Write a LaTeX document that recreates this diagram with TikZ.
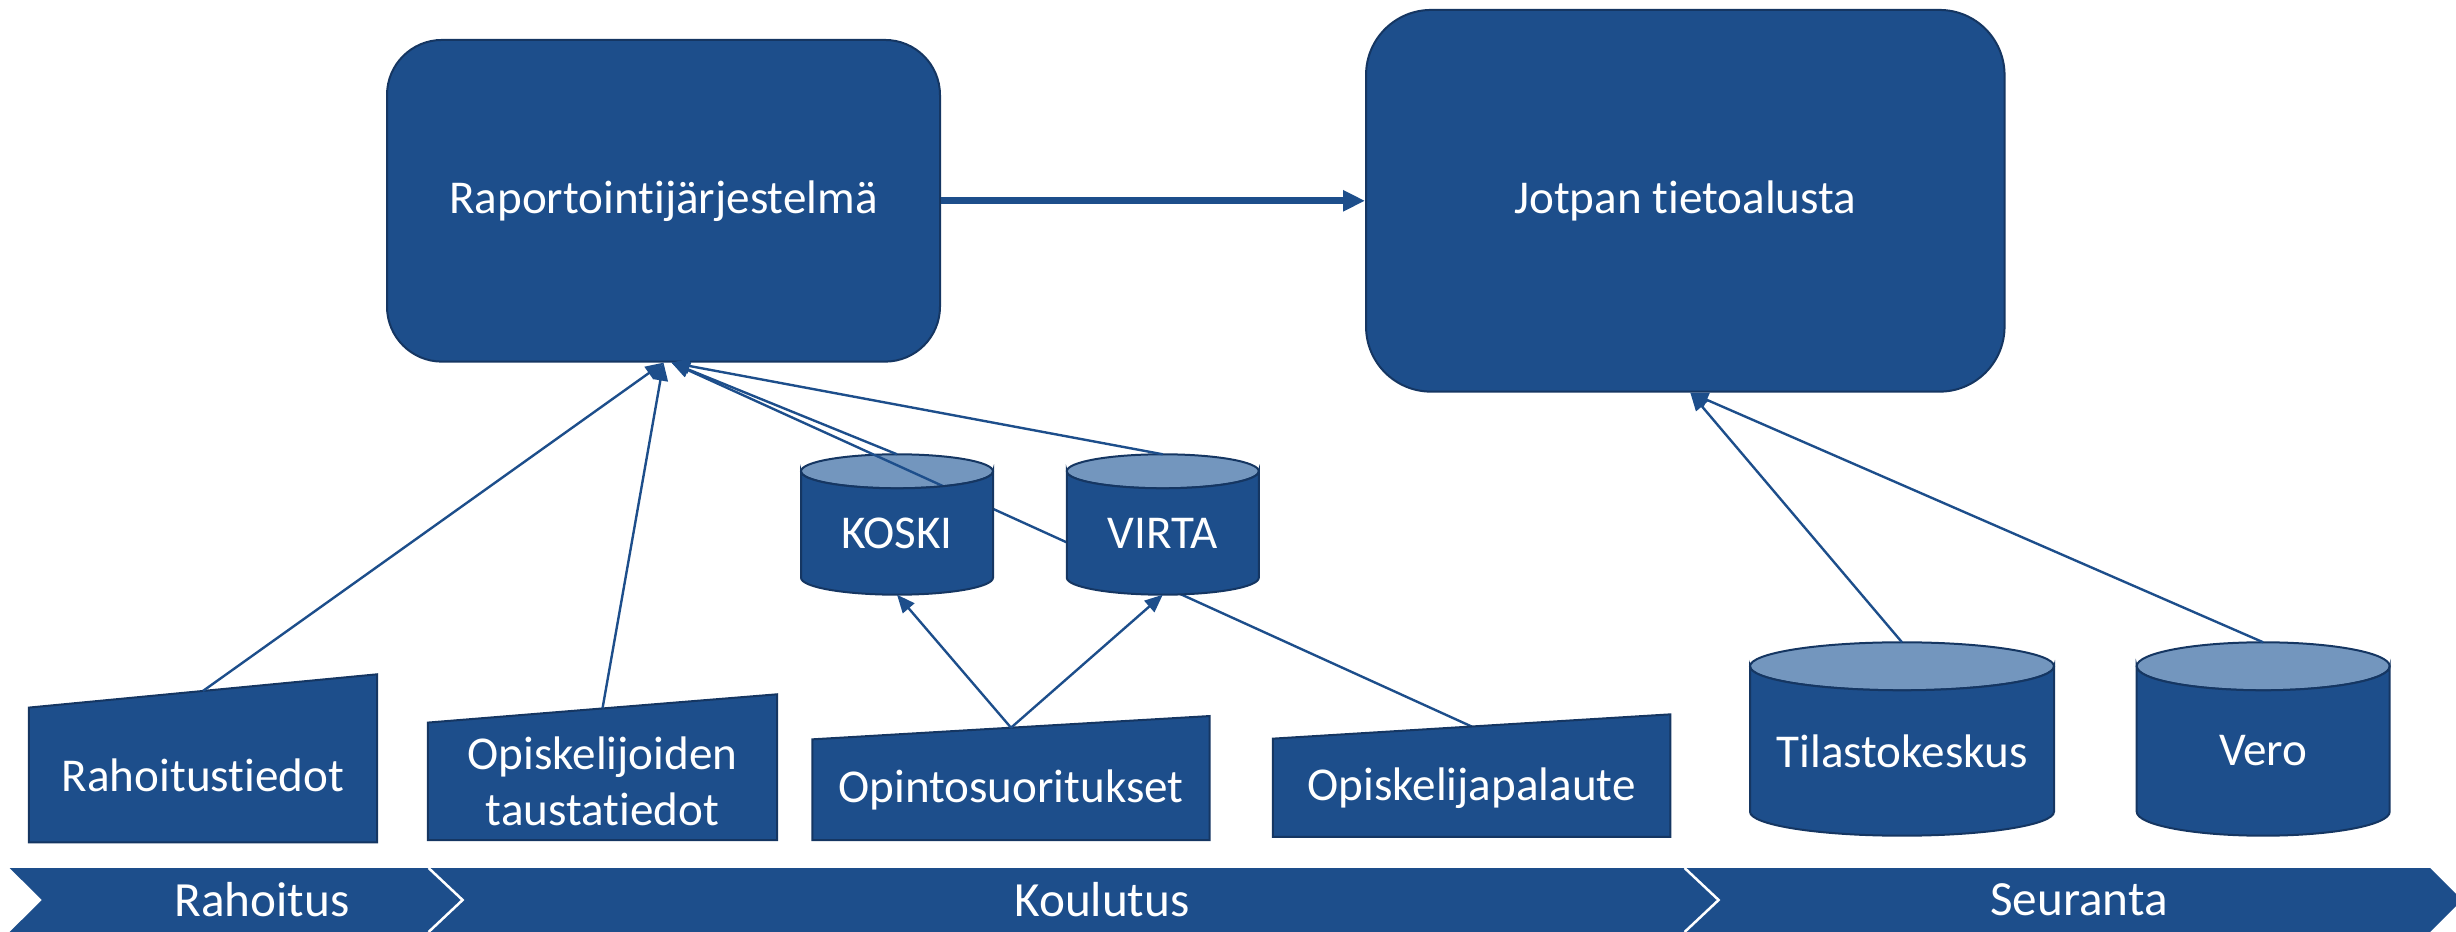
\documentclass[tikz,border=0pt]{standalone}
\usepackage{fontspec}
\setmainfont{Carlito}[Ligatures={NoCommon}]
\usetikzlibrary{calc,arrows.meta}
\definecolor{jotblue}{RGB}{29,78,139}
\definecolor{jottop}{RGB}{115,150,190}
\definecolor{jotedge}{RGB}{21,54,98}
\pgfdeclarelayer{tops}
\pgfdeclarelayer{through}
\pgfdeclarelayer{shapes}
\pgfsetlayers{tops,through,shapes,main}
\newcommand\boxfont{\fontsize{13.4}{16.2}\selectfont}
\newcommand\phasefont{\fontsize{14}{17}\selectfont}
\tikzset{
  system/.style={draw=jotedge, line width=0.2mm, fill=jotblue, text=white,
        rounded corners=5.5mm, font=\boxfont},
  source/.style={inner sep=0pt, text=white, font=\boxfont, align=center},
  db/.style={inner sep=0pt, text=white, font=\boxfont},
  input box/.style={draw=jotedge, line width=0.2mm, fill=jotblue},
  db top/.style={draw=jotedge, line width=0.2mm, fill=jottop},
  db body/.style={draw=jotedge, line width=0.2mm, fill=jotblue},
  feed/.style={draw=jotblue, line width=0.24mm, -{Triangle[length=1.8mm,width=1.5mm]}},
  phase/.style={text=white, font=\phasefont}
}
\def\InputBox#1#2{% node, rise of the top right corner
  \begin{pgfonlayer}{shapes}
    \filldraw[input box] (#1.south west) -- (#1.south east)
      -- ($(#1.north east)+(0,#2)$) -- (#1.north west) -- cycle;
  \end{pgfonlayer}
  \coordinate (#1-top) at ($(#1.north)+(0,#2/2)$);
}
\def\Database#1#2#3{% node, half width, y radius of the ends
  \begin{pgfonlayer}{tops}
    \filldraw[db top] (#1.north) ellipse [x radius=#2, y radius=#3];
  \end{pgfonlayer}
  \begin{pgfonlayer}{shapes}
    \filldraw[db body] ($(#1.north)+(-#2,0)$)
      arc[start angle=180, end angle=360, x radius=#2, y radius=#3]
      -- ($(#1.south)+(#2,#3)$)
      arc[start angle=0, end angle=-180, x radius=#2, y radius=#3] -- cycle;
  \end{pgfonlayer}
  \coordinate (#1-top) at ($(#1.north)+(0,#3)$);
}
\begin{document}
\begin{tikzpicture}[x=0.1mm, y=0.1mm]
\useasboundingbox (0,0) rectangle (2456,931);
% systems
\node[system, minimum width=55.3mm, minimum height=32.17mm] (rap) at (663.5,730.2) {Raportointijärjestelmä};
\node[system, rounded corners=6.5mm, minimum width=63.85mm, minimum height=38.17mm] (jot) at (1685.3,730.2) {Jotpan tietoalusta};
% sources
\node[source, minimum width=34.7mm, minimum height=13.34mm] (rahoitus) at (203,156) {Rahoitustiedot};
\node[source, minimum width=34.8mm, minimum height=11.6mm] (tausta) at (602.5,149.7) {Opiskelijoiden\\taustatiedot};
\node[source, minimum width=39.6mm, minimum height=9.93mm] (opinto) at (1011,141.3) {Opintosuoritukset};
\node[source, minimum width=39.6mm, minimum height=9.67mm] (palaute) at (1471.6,143.3) {Opiskelijapalaute};
\InputBox{rahoitus}{33.3}
\InputBox{tausta}{28.3}
\InputBox{opinto}{23.3}
\InputBox{palaute}{24.3}
% registers
\node[db, minimum width=19.2mm, minimum height=12.2mm] (koski) at (897,398) {KOSKI};
\node[db, minimum width=19.2mm, minimum height=12.2mm] (virta) at (1162.8,398) {VIRTA};
\node[db, minimum width=30.4mm, minimum height=16.8mm] (tilasto) at (1902,180) {Tilastokeskus};
\node[db, minimum width=25.3mm, minimum height=16.8mm] (vero) at (2263.2,180) {Vero};
\Database{koski}{96}{17}
\Database{virta}{96}{17}
\Database{tilasto}{152}{24}
\Database{vero}{126.5}{24}
% connectors
\coordinate (rap-in) at ($(rap.south)+(8,0)$);
\coordinate (jot-in) at ($(jot.south)+(5,0)$);
\draw[feed, line width=0.7mm, -{Triangle[length=2.2mm,width=2mm]}] (rap) -- (jot);
\draw[feed] (rahoitus-top) -- (rap.south);
\draw[feed] (tausta-top) -- (rap.south);
\draw[feed] (koski-top) -- (rap-in);
\draw[feed] (virta-top) -- (rap-in);
\begin{pgfonlayer}{through}
  \draw[feed] (palaute-top) -- (rap-in);
\end{pgfonlayer}
\draw[feed] (opinto-top) -- (koski.south);
\draw[feed] (opinto-top) -- (virta.south);
\draw[feed] (tilasto-top) -- (jot-in);
\draw[feed] (vero-top) -- (jot-in);
% phases
\fill[jotblue] (9.6,63) -- (2430,63) -- (2462,31) -- (2430,-1) -- (9.6,-1) -- (42,31) -- cycle;
\foreach \x in {428.6,1684.6}
  \draw[white, line width=0.25mm] (\x,63) -- ++(34,-32) -- ++(-34,-32);
\node[phase] (rahoitus-phase) at (262,31) {Rahoitus};
\node[phase] (koulutus-phase) at (1102,31) {Koulutus};
\node[phase] (seuranta-phase) at (2079,31) {Seuranta};
\end{tikzpicture}
\end{document}
